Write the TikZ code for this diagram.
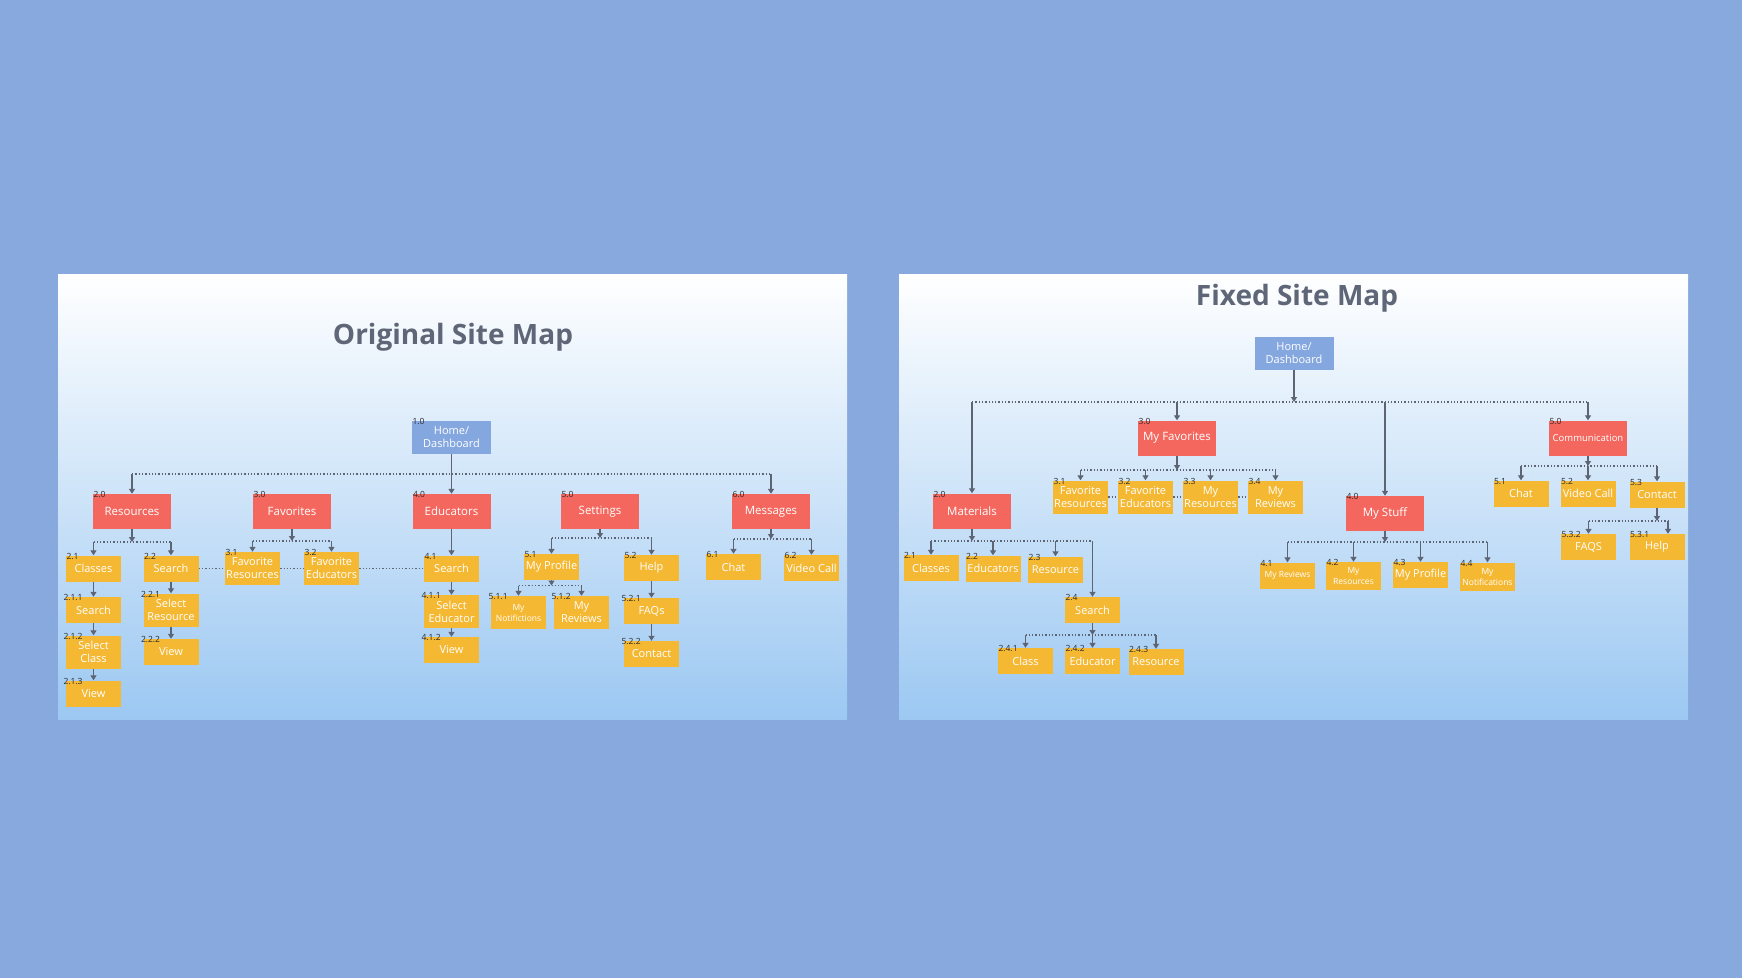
\documentclass[tikz,border=0pt]{standalone}
\usepackage{fontspec}
\setmainfont{Open Sans}
\usetikzlibrary{arrows.meta,positioning}

\definecolor{bgblue}{HTML}{87A9DE}
\definecolor{homeblue}{HTML}{85A7DF}
\definecolor{secred}{HTML}{F4675E}
\definecolor{subyel}{HTML}{F5B833}
\definecolor{lgrey}{HTML}{5D6474}
\definecolor{numgrey}{HTML}{2A2A2A}
\definecolor{titlegrey}{HTML}{5E6677}
\definecolor{pmid}{HTML}{E4F1FC}
\definecolor{pbot}{HTML}{9CC8F2}

\newcommand{\boxfont}{\fontsize{11}{13}\selectfont}
\newcommand{\redfont}{\fontsize{11.5}{13}\selectfont}
\newcommand{\smallfont}{\fontsize{8.5}{11}\selectfont}
\newcommand{\numfont}{\fontsize{8.5}{9}\selectfont}

\tikzset{
  hbox/.style={fill=homeblue, text=white, minimum width=79pt, minimum height=33pt,
    inner sep=0pt, align=center, font=\boxfont},
  rbox/.style={fill=secred, text=white, minimum width=78pt, minimum height=35pt,
    inner sep=0pt, align=center, font=\redfont},
  ybox/.style={fill=subyel, text=white, minimum width=55pt, minimum height=26pt,
    inner sep=0pt, align=center, font=\boxfont},
  tall/.style={minimum height=33pt},
  tiny/.style={font=\smallfont},
  num/.style={anchor=north west, inner sep=0.5pt, text=numgrey, font=\numfont, yshift=3pt},
  link/.style={draw=lgrey, line width=1.3pt, -{Triangle[length=5pt,width=6pt]}},
  bus/.style={draw=lgrey, line width=1.3pt, dotted},
  title/.style={text=titlegrey, font=\fontsize{28}{32}\selectfont\bfseries}
}

\begin{document}
\begin{tikzpicture}[x=1pt,y=-1pt]
\useasboundingbox (0,0) rectangle (1742,978);
\fill[bgblue] (0,0) rectangle (1742,978);
% panels
\shade[top color=white, middle color=pmid, bottom color=pbot] (58,274) rectangle (847,719);
\shade[top color=white, middle color=pmid, bottom color=pbot] (899,274) rectangle (1688,719);

%%% original site map
\node[title] (t1) at (453,337) {Original Site Map};
\node[hbox] (home1) at (451.5,437.5) {Home/\\Dashboard};
\node[num] (n10) at (home1.north west) {1.0};

\node[rbox] (res) at (132,511.5) {Resources};
\node[rbox] (fav) at (292,511.5) {Favorites};
\node[rbox] (edu) at (451.5,511.5) {Educators};
\node[rbox] (set) at (600,511.5) {Settings};
\node[rbox] (msg) at (771,511.5) {Messages};
\node[num] (n20) at (res.north west) {2.0};
\node[num] (n30) at (fav.north west) {3.0};
\node[num] (n40) at (edu.north west) {4.0};
\node[num] (n50) at (set.north west) {5.0};
\node[num] (n60) at (msg.north west) {6.0};

\coordinate (b1l) at (132,474);
\coordinate (b1r) at (771,474);
\draw[bus] (b1l) -- (b1r);
\draw[link] (b1l) -- (res);
\draw[link] (b1r) -- (msg);
\draw[link] (home1) -- (edu);

% resources
\node[ybox] (cls) at (93.5,568.5) {Classes};
\node[ybox] (srch) at (171,568.5) {Search};
\node[ybox] (csrch) at (93.5,610) {Search};
\node[ybox,tall] (selcls) at (93.5,652) {Select\\Class};
\node[ybox] (cview) at (93.5,693.5) {View};
\node[ybox,tall] (selres) at (171,610) {Select\\Resource};
\node[ybox] (rview) at (171,652) {View};
\node[num] (n21) at (cls.north west) {2.1};
\node[num] (n22) at (srch.north west) {2.2};
\node[num] (n211) at ([xshift=-3pt]csrch.north west) {2.1.1};
\node[num] (n212) at ([xshift=-3pt]selcls.north west) {2.1.2};
\node[num] (n213) at ([xshift=-3pt]cview.north west) {2.1.3};
\node[num] (n221) at ([xshift=-3pt]selres.north west) {2.2.1};
\node[num] (n222) at ([xshift=-3pt]rview.north west) {2.2.2};
\coordinate (b2) at (132,542);
\coordinate (b2l) at (93.5,542);
\coordinate (b2r) at (171,542);
\draw[link] (res) -- (b2);
\draw[bus] (b2l) -- (b2r);
\draw[link] (b2l) -- (cls);
\draw[link] (b2r) -- (srch);
\draw[link] (cls) -- (csrch);
\draw[link] (csrch) -- (selcls);
\draw[link] (selcls) -- (cview);
\draw[link] (srch) -- (selres);
\draw[link] (selres) -- (rview);

% favorites
\node[ybox,tall] (fres) at (252.5,568.5) {Favorite\\Resources};
\node[ybox,tall] (fedu) at (331.5,568.5) {Favorite\\Educators};
\node[num] (n31) at (fres.north west) {3.1};
\node[num] (n32) at (fedu.north west) {3.2};
\coordinate (b3) at (292,541);
\coordinate (b3l) at (252.5,541);
\coordinate (b3r) at (331.5,541);
\draw[link] (fav) -- (b3);
\draw[bus] (b3l) -- (b3r);
\draw[link] (b3l) -- (fres);
\draw[link] (b3r) -- (fedu);

% educators
\node[ybox] (esrch) at (451.5,568.5) {Search};
\node[ybox,tall] (seledu) at (451.5,611.5) {Select\\Educator};
\node[ybox] (eview) at (451.5,650) {View};
\node[num] (n41) at (esrch.north west) {4.1};
\node[num] (n411) at ([xshift=-3pt]seledu.north west) {4.1.1};
\node[num] (n412) at ([xshift=-3pt]eview.north west) {4.1.2};
\draw[link] (edu) -- (esrch);
\draw[link] (esrch) -- (seledu);
\draw[link] (seledu) -- (eview);
\draw[bus] (srch.east) -- (fres.west);
\draw[bus] (fres.east) -- (fedu.west);
\draw[bus] (fedu.east) -- (esrch.west);

% settings
\node[ybox] (prof) at (551.5,567) {My Profile};
\node[ybox] (help) at (651.5,568) {Help};
\node[ybox,tall,tiny] (notif) at (518.5,612.5) {My\\Notifictions};
\node[ybox,tall] (revw) at (581.5,612.5) {My\\Reviews};
\node[ybox] (faq) at (651.5,611) {FAQs};
\node[ybox] (cont) at (651.5,654) {Contact};
\node[num] (n51) at (prof.north west) {5.1};
\node[num] (n52) at (help.north west) {5.2};
\node[num] (n511) at ([xshift=-3pt]notif.north west) {5.1.1};
\node[num] (n512) at ([xshift=-3pt]revw.north west) {5.1.2};
\node[num] (n521) at ([xshift=-3pt]faq.north west) {5.2.1};
\node[num] (n522) at ([xshift=-3pt]cont.north west) {5.2.2};
\coordinate (b5) at (600,538);
\coordinate (b5l) at (551.5,538);
\coordinate (b5r) at (651.5,538);
\draw[link] (set) -- (b5);
\draw[bus] (b5l) -- (b5r);
\draw[link] (b5l) -- (prof);
\draw[link] (b5r) -- (help);
\coordinate (b51) at (551.5,585.5);
\coordinate (b51l) at (518.5,585.5);
\coordinate (b51r) at (581.5,585.5);
\draw[link] (prof) -- (b51);
\draw[bus] (b51l) -- (b51r);
\draw[link] (b51l) -- (notif);
\draw[link] (b51r) -- (revw);
\draw[link] (help) -- (faq);
\draw[link] (faq) -- (cont);

% messages
\node[ybox] (chat) at (733.5,567) {Chat};
\node[ybox] (vcall) at (811.5,568) {Video Call};
\node[num] (n61) at (chat.north west) {6.1};
\node[num] (n62) at (vcall.north west) {6.2};
\coordinate (b6) at (771,539);
\coordinate (b6l) at (733.5,539);
\coordinate (b6r) at (811.5,539);
\draw[link] (msg) -- (b6);
\draw[bus] (b6l) -- (b6r);
\draw[link] (b6l) -- (chat);
\draw[link] (b6r) -- (vcall);

%%% fixed site map
\node[title] (t2) at (1297,298) {Fixed Site Map};
\node[hbox] (home2) at (1294,353) {Home/\\Dashboard};

\node[rbox] (mat) at (972,511) {Materials};
\node[rbox] (myfav) at (1177,438) {My Favorites};
\node[rbox] (stuff) at (1385,513.5) {My Stuff};
\node[rbox,font=\fontsize{9.5}{11}\selectfont] (comm) at (1588,438) {Communication};
\node[num] (m20) at (mat.north west) {2.0};
\node[num] (m30) at (myfav.north west) {3.0};
\node[num] (m40) at (stuff.north west) {4.0};
\node[num] (m50) at (comm.north west) {5.0};

\coordinate (h2) at (1294,402);
\coordinate (h2a) at (972,402);
\coordinate (h2b) at (1177,402);
\coordinate (h2c) at (1385,402);
\coordinate (h2d) at (1588,402);
\draw[link] (home2) -- (h2);
\draw[bus] (h2a) -- (h2d);
\draw[link] (h2a) -- (mat);
\draw[link] (h2b) -- (myfav);
\draw[link] (h2c) -- (stuff);
\draw[link] (h2d) -- (comm);

% materials
\node[ybox] (mcls) at (931,568) {Classes};
\node[ybox] (medu) at (993,568.5) {Educators};
\node[ybox] (mres) at (1055.5,569.5) {Resource};
\node[ybox] (msrch) at (1092.5,610) {Search};
\node[num] (m21) at (mcls.north west) {2.1};
\node[num] (m22) at (medu.north west) {2.2};
\node[num] (m23) at (mres.north west) {2.3};
\node[num] (m24) at (msrch.north west) {2.4};
\coordinate (c2) at (972,541);
\coordinate (c2a) at (931,541);
\coordinate (c2b) at (993,541);
\coordinate (c2c) at (1055.5,541);
\coordinate (c2d) at (1092.5,541);
\draw[link] (mat) -- (c2);
\draw[bus] (c2a) -- (c2d);
\draw[link] (c2a) -- (mcls);
\draw[link] (c2b) -- (medu);
\draw[link] (c2c) -- (mres);
\draw[link] (c2d) -- (msrch);

\node[ybox] (scls) at (1025.5,661) {Class};
\node[ybox] (sedu) at (1092.5,661) {Educator};
\node[ybox] (sres) at (1156,662) {Resource};
\node[num] (m241) at (scls.north west) {2.4.1};
\node[num] (m242) at (sedu.north west) {2.4.2};
\node[num] (m243) at (sres.north west) {2.4.3};
\coordinate (c24) at (1092.5,635);
\coordinate (c24a) at (1025.5,635);
\coordinate (c24b) at (1156,635);
\draw[link] (msrch) -- (c24);
\draw[bus] (c24a) -- (c24b);
\draw[link] (c24a) -- (scls);
\draw[link] (c24) -- (sedu);
\draw[link] (c24b) -- (sres);

% my favorites
\node[ybox,tall] (ffr) at (1080.5,497) {Favorite\\Resources};
\node[ybox,tall] (ffe) at (1145.5,497) {Favorite\\Educators};
\node[ybox,tall] (fmr) at (1210.5,497) {My\\Resources};
\node[ybox,tall] (fmv) at (1275.5,497) {My\\Reviews};
\node[num] (m31) at (ffr.north west) {3.1};
\node[num] (m32) at (ffe.north west) {3.2};
\node[num] (m33) at (fmr.north west) {3.3};
\node[num] (m34) at (fmv.north west) {3.4};
\coordinate (c3) at (1177,470);
\coordinate (c3a) at (1080.5,470);
\coordinate (c3b) at (1145.5,470);
\coordinate (c3c) at (1210.5,470);
\coordinate (c3d) at (1275.5,470);
\draw[link] (myfav) -- (c3);
\draw[bus] (c3a) -- (c3d);
\draw[link] (c3a) -- (ffr);
\draw[link] (c3b) -- (ffe);
\draw[link] (c3c) -- (fmr);
\draw[link] (c3d) -- (fmv);
\draw[bus] (ffr.east) -- (ffe.west);
\draw[bus] (ffe.east) -- (fmr.west);
\draw[bus] (fmr.east) -- (fmv.west);

% my stuff
\node[ybox,tiny] (s41) at (1287.5,575.5) {My Reviews};
\node[ybox,tiny,minimum height=28pt] (s42) at (1353.5,576) {My\\Resources};
\node[ybox] (s43) at (1420.5,575) {My Profile};
\node[ybox,tiny,minimum height=28pt] (s44) at (1487.5,576.5) {My\\Notifications};
\node[num] (m41) at (s41.north west) {4.1};
\node[num] (m42) at (s42.north west) {4.2};
\node[num] (m43) at (s43.north west) {4.3};
\node[num] (m44) at (s44.north west) {4.4};
\coordinate (c4) at (1385,542);
\coordinate (c4a) at (1287.5,542);
\coordinate (c4b) at (1353.5,542);
\coordinate (c4c) at (1420.5,542);
\coordinate (c4d) at (1487.5,542);
\draw[link] (stuff) -- (c4);
\draw[bus] (c4a) -- (c4d);
\draw[link] (c4a) -- (s41);
\draw[link] (c4b) -- (s42);
\draw[link] (c4c) -- (s43);
\draw[link] (c4d) -- (s44);

% communication
\node[ybox] (cchat) at (1521,493.5) {Chat};
\node[ybox] (cvc) at (1588,493.5) {Video Call};
\node[ybox] (ccont) at (1657,494.5) {Contact};
\node[ybox] (cfaq) at (1588.5,547) {FAQS};
\node[ybox] (chelp) at (1657,547) {Help};
\node[num] (m51) at (cchat.north west) {5.1};
\node[num] (m52) at (cvc.north west) {5.2};
\node[num] (m53) at (ccont.north west) {5.3};
\node[num] (m532) at (cfaq.north west) {5.3.2};
\node[num] (m531) at (chelp.north west) {5.3.1};
\coordinate (c5) at (1588,466);
\coordinate (c5a) at (1521,466);
\coordinate (c5c) at (1657,466);
\draw[link] (comm) -- (c5);
\draw[bus] (c5a) -- (c5c);
\draw[link] (c5a) -- (cchat);
\draw[link] (c5) -- (cvc);
\draw[link] (c5c) -- (ccont);
\coordinate (c53) at (1657,521);
\coordinate (c53a) at (1588.5,521);
\coordinate (c53b) at (1668,521);
\draw[link] (ccont) -- (c53);
\draw[bus] (c53a) -- (c53b);
\draw[link] (c53a) -- (cfaq);
\draw[link] (c53b) -- (c53b |- chelp.north);
\end{tikzpicture}
\end{document}
